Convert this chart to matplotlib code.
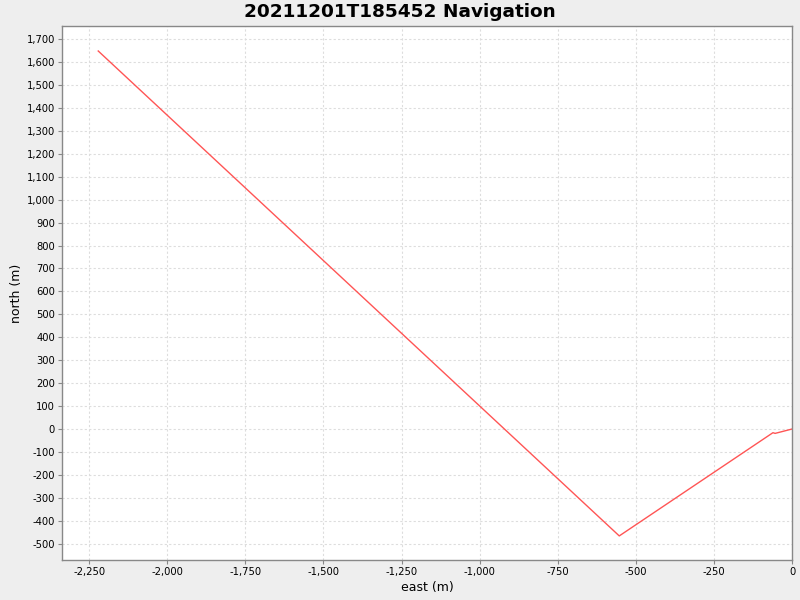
import matplotlib
matplotlib.use("Agg")
import matplotlib.pyplot as plt
import numpy as np
from matplotlib.ticker import FuncFormatter, MultipleLocator

# track (metres)
east = [-2221, -553, -61, -54, 0]
north = [1648, -466, -16, -19, 0]

title = "20211201T185452 Navigation"
xlabel = "east (m)"
ylabel = "north (m)"

plt.rcParams["font.family"] = "DejaVu Sans"

fig = plt.figure(figsize=(8, 6), dpi=100, facecolor="#EEEEEE")
ax = fig.add_axes([62 / 800, 1 - 560 / 600, 730 / 800, 534 / 600])
ax.set_facecolor("white")

ax.plot(east, north, color="#FF5555", linewidth=1)

ax.set_xlim(-2337, 0)
ax.set_ylim(-571, 1757)
ax.xaxis.set_major_locator(MultipleLocator(250))
ax.yaxis.set_major_locator(MultipleLocator(100))
fmt = FuncFormatter(lambda v, p: "{:,.0f}".format(v))
ax.xaxis.set_major_formatter(fmt)
ax.yaxis.set_major_formatter(fmt)

ax.grid(True, color="#DDDDDD", linestyle=(0, (2, 2)), linewidth=0.8)
ax.set_axisbelow(True)
for s in ax.spines.values():
    s.set_color("#888888")
    s.set_linewidth(1)
ax.tick_params(direction="out", length=3, width=0.8, color="#888888",
               labelsize=7.2, pad=2)

ax.set_xlabel(xlabel, fontsize=9, labelpad=3)
ax.set_ylabel(ylabel, fontsize=9, labelpad=3)
fig.suptitle(title, fontsize=13.3, fontweight="bold", y=0.995, va="top")

plt.savefig("out.png", dpi=100, facecolor=fig.get_facecolor())
